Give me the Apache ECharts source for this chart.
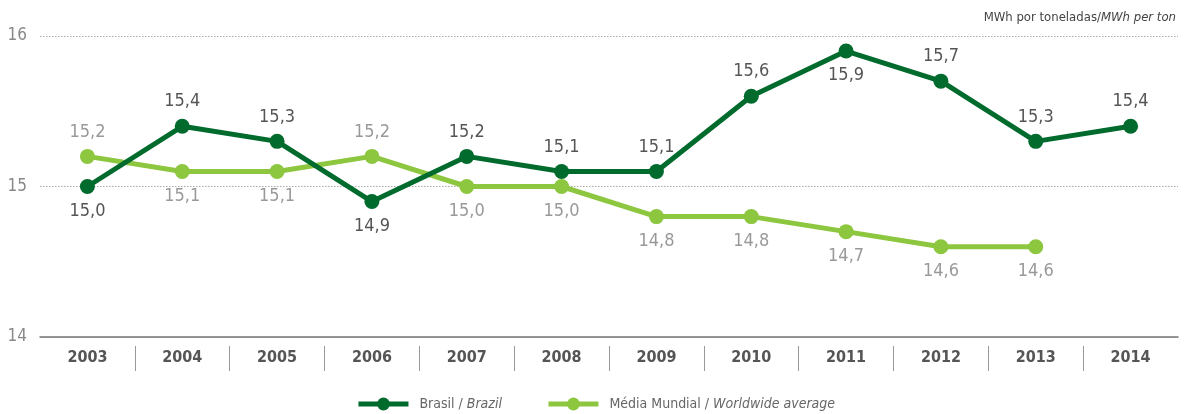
<!DOCTYPE html>
<html>
<head>
<meta charset="utf-8">
<script src="https://cdn.jsdelivr.net/npm/echarts@6/dist/echarts.min.js"></script>
<style>
  html, body { margin: 0; padding: 0; background: #fff; }
  #chart { width: 1191px; height: 414px; }
</style>
</head>
<body>
<div id="chart"></div>
<script>
var years = ["2003", "2004", "2005", "2006", "2007", "2008", "2009", "2010", "2011", "2012", "2013", "2014"];
var brasil = [15.0, 15.4, 15.3, 14.9, 15.2, 15.1, 15.1, 15.6, 15.9, 15.7, 15.3, 15.4];
var mundial = [15.2, 15.1, 15.1, 15.2, 15.0, 15.0, 14.8, 14.8, 14.7, 14.6, 14.6, null];
// label placement per point: t = above, b = below
var brasilPos = ["b", "t", "t", "b", "t", "t", "t", "t", "b", "t", "t", "t"];
var mundialPos = ["t", "b", "b", "t", "b", "b", "b", "b", "b", "b", "b", "b"];

var FONT = "'DejaVu Sans Condensed', 'Liberation Sans', sans-serif";
var darkGreen = "#006b2d";
var lightGreen = "#8dc63f";

function fmt(v) {
  return v.toFixed(1).replace(".", ",");
}

function buildData(vals, pos) {
  return vals.map(function (v, i) {
    if (v == null) return null;
    return {
      value: v,
      label: { position: pos[i] === "t" ? "top" : "bottom" }
    };
  });
}

var chart = echarts.init(document.getElementById("chart"));

var option = {
  animation: false,
  textStyle: { fontFamily: FONT },
  title: {
    text: "{a|MWh por toneladas/}{b|MWh per ton}",
    right: 10,
    top: 6,
    textStyle: {
      fontWeight: "normal",
      rich: {
        a: { fontFamily: FONT, fontSize: 13, color: "#444", fontWeight: "normal" },
        b: { fontFamily: FONT, fontSize: 13, color: "#444", fontWeight: "normal", fontStyle: "italic" }
      }
    }
  },
  grid: {
    left: 40,
    right: 13,
    top: 36,
    bottom: 77
  },
  legend: {
    top: 392,
    left: "center",
    itemWidth: 50,
    itemHeight: 16,
    itemGap: 44,
    data: ["Brasil", "Média Mundial"],
    lineStyle: { width: 5 },
    formatter: function (name) {
      if (name === "Brasil") return "{a|Brasil / }{b|Brazil}";
      return "{a|Média Mundial / }{b|Worldwide average}";
    },
    textStyle: {
      padding: [0, 0, 0, 6],
      rich: {
        a: { fontFamily: FONT, fontSize: 14, color: "#666" },
        b: { fontFamily: FONT, fontSize: 14, color: "#666", fontStyle: "italic" }
      }
    }
  },
  xAxis: [
    {
      type: "category",
      data: years,
      boundaryGap: true,
      axisLine: { lineStyle: { color: "#777", width: 1.5 } },
      axisTick: { show: false },
      axisLabel: {
        fontFamily: FONT,
        fontSize: 16,
        fontWeight: "bold",
        color: "#555",
        margin: 13
      }
    },
    {
      // separators between the year labels
      type: "category",
      position: "bottom",
      offset: 9,
      boundaryGap: false,
      data: years.concat([""]),
      axisLine: { show: false },
      axisLabel: { show: false },
      axisTick: {
        show: true,
        length: 25,
        interval: function (i) { return i > 0 && i < years.length; },
        lineStyle: { color: "#999", width: 1 }
      }
    }
  ],
  yAxis: {
    type: "value",
    min: 14,
    max: 16,
    interval: 1,
    axisLine: { show: false },
    axisTick: { show: false },
    axisLabel: {
      fontFamily: FONT,
      fontSize: 17,
      color: "#888",
      margin: 13
    },
    splitLine: {
      lineStyle: { color: "#aaa", type: [1.5, 1.5], width: 1 }
    }
  },
  series: [
    {
      name: "Brasil",
      type: "line",
      xAxisIndex: 0,
      data: buildData(brasil, brasilPos),
      symbol: "circle",
      symbolSize: 15,
      lineStyle: { color: darkGreen, width: 5 },
      itemStyle: { color: darkGreen },
      label: {
        show: true,
        distance: 8,
        fontFamily: FONT,
        fontSize: 18,
        color: "#555",
        formatter: function (p) { return fmt(p.value); }
      },
      z: 3
    },
    {
      name: "Média Mundial",
      type: "line",
      xAxisIndex: 0,
      data: buildData(mundial, mundialPos),
      symbol: "circle",
      symbolSize: 15,
      lineStyle: { color: lightGreen, width: 5 },
      itemStyle: { color: lightGreen },
      label: {
        show: true,
        distance: 8,
        fontFamily: FONT,
        fontSize: 18,
        color: "#999",
        formatter: function (p) { return fmt(p.value); }
      },
      z: 2
    }
  ]
};

chart.setOption(option);
</script>
</body>
</html>
